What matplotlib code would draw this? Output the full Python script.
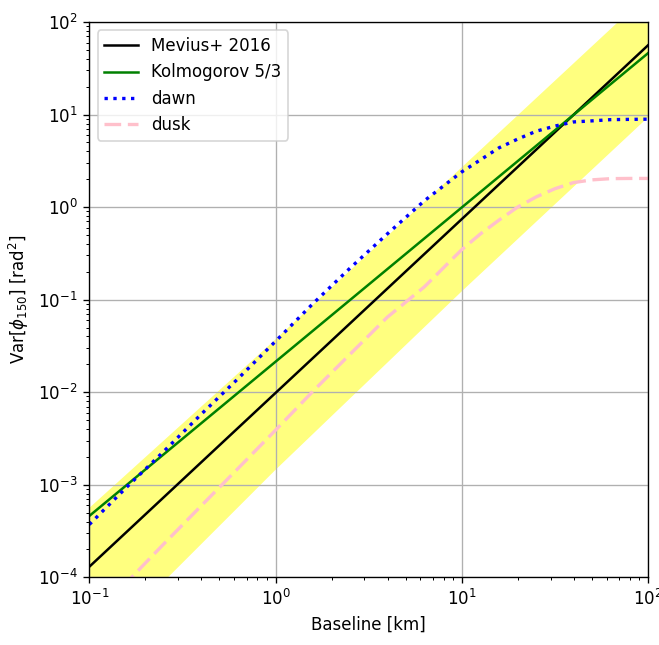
"""Phase variance vs baseline"""

import matplotlib
matplotlib.use('Agg')
import matplotlib.pyplot as plt

# baseline [km] and variance [rad^2]
mevius_x = [0.1, 100.0]
mevius_y = [1.3e-4, 56.0]

kolmo_x = [0.1, 100.0]
kolmo_y = [4.6e-4, 46.0]

band_x = [0.1, 1.0, 10.0, 100.0]
band_lo = [1.41e-5, 1.45e-3, 0.123, 9.33]
band_hi = [5.62e-4, 3.72e-2, 2.69, 200.0]

curve_x = [0.1, 0.158, 0.251, 0.398, 0.631, 1.0, 1.585, 2.512, 3.981,
           6.31, 7.943, 10.0, 12.59, 15.85, 19.95, 25.12, 31.62, 39.81,
           50.12, 63.1, 79.43, 100.0]
dawn_y = [3.72e-4, 9.33e-4, 2.29e-3, 5.75e-3, 1.41e-2, 3.55e-2, 9.02e-2,
          0.219, 0.513, 1.175, 1.68, 2.40, 3.24, 4.37, 5.43, 6.61, 7.50,
          8.32, 8.55, 8.81, 8.87, 8.91]
dusk_y = [3.39e-5, 8.71e-5, 2.29e-4, 5.89e-4, 1.51e-3, 3.89e-3, 1.02e-2,
          2.57e-2, 6.46e-2, 0.138, 0.219, 0.347, 0.513, 0.724, 1.0, 1.29,
          1.58, 1.84, 1.97, 2.03, 2.04, 2.04]

if __name__ == '__main__':
    dpi = 120
    fig = plt.figure(figsize=(659 / dpi, 645 / dpi), dpi=dpi)
    ax = fig.add_axes([89.3 / 659, 67.7 / 645, 558.7 / 659, 555.3 / 645])

    ax.fill_between(band_x, band_lo, band_hi, color='yellow', alpha=0.5,
                    linewidth=0)
    ax.plot(mevius_x, mevius_y, 'k', label='Mevius+ 2016')
    ax.plot(kolmo_x, kolmo_y, 'g', label='Kolmogorov 5/3')
    ax.plot(curve_x, dawn_y, 'b:', lw=2, label='dawn')
    ax.plot(curve_x, dusk_y, color='pink', ls='--', dashes=(5, 2), lw=2,
            label='dusk')

    ax.set_xscale('log')
    ax.set_yscale('log')
    ax.set_xlim(0.1, 100)
    ax.set_ylim(1e-4, 1e2)
    ax.grid(True)
    ax.legend(loc='upper left')
    ax.set_xlabel('Baseline [km]')
    ax.set_ylabel(r'Var[$\phi_{150}$] [rad$^2$]')

    fig.savefig('out.png', dpi=dpi)
